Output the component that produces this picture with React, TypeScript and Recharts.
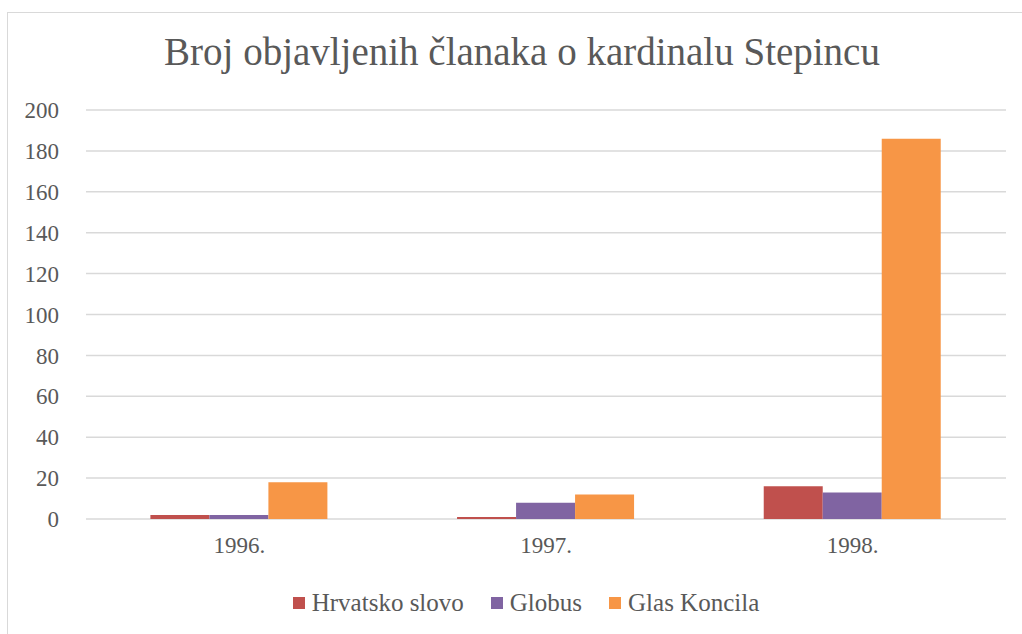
import { BarChart, Bar, XAxis, YAxis, CartesianGrid, Legend } from 'recharts';

const years = ['1996.', '1997.', '1998.'];
const hrvatskoSlovo = [2, 1, 16];
const globus = [2, 8, 13];
const glasKoncila = [18, 12, 186];
const yTicks = [0, 20, 40, 60, 80, 100, 120, 140, 160, 180, 200];

const series = [
  { key: 'hrvatsko', name: 'Hrvatsko slovo', color: '#C0504D', values: hrvatskoSlovo },
  { key: 'globus', name: 'Globus', color: '#8064A2', values: globus },
  { key: 'glas', name: 'Glas Koncila', color: '#F79646', values: glasKoncila },
];

const data = years.map((year, i) => {
  const row: Record<string, string | number> = { year };
  series.forEach((s) => (row[s.key] = s.values[i]));
  return row;
});

const FONT = '"Liberation Serif", serif';
const TEXT = '#595959';

// legend kept in series order, Excel-like spacing
const renderLegend = () => (
  <div style={{ display: 'flex', justifyContent: 'center', alignItems: 'center', gap: 27, fontFamily: FONT, fontSize: 25, color: TEXT }}>
    {series.map((s) => (
      <div key={s.key} style={{ display: 'flex', alignItems: 'center', gap: 7 }}>
        <span style={{ display: 'inline-block', width: 12, height: 12, background: s.color }} />
        <span>{s.name}</span>
      </div>
    ))}
  </div>
);

export default function App() {
  return (
    <div style={{ position: 'absolute', left: 0, top: 0, width: 1022, height: 634, background: '#fff', overflow: 'hidden' }}>
      <div
        style={{
          position: 'absolute',
          left: 7,
          top: 12,
          width: 1015,
          height: 622,
          borderTop: '1.5px solid #d9d9d9',
          borderLeft: '1.5px solid #d9d9d9',
          boxSizing: 'border-box',
        }}
      />
      <div
        style={{
          position: 'absolute',
          left: 0,
          width: 1044,
          top: 29,
          textAlign: 'center',
          fontFamily: FONT,
          fontSize: 39,
          color: TEXT,
          whiteSpace: 'nowrap',
        }}
      >
        Broj objavljenih članaka o kardinalu Stepincu
      </div>
      <div style={{ position: 'absolute', left: 0, top: 0 }}>
        <BarChart
          width={1022}
          height={634}
          data={data}
          margin={{ top: 110, right: 16, left: 0, bottom: 57 }}
          barCategoryGap="21%"
          barGap={0}
        >
          <CartesianGrid vertical={false} stroke="#d9d9d9" strokeWidth={1.5} />
          <XAxis
            dataKey="year"
            axisLine={false}
            tickLine={false}
            height={30}
            tick={{ fill: TEXT, fontSize: 23, fontFamily: FONT }}
            tickMargin={12}
          />
          <YAxis
            domain={[0, 200]}
            ticks={yTicks}
            axisLine={false}
            tickLine={false}
            width={86}
            tick={{ fill: TEXT, fontSize: 23, fontFamily: FONT }}
            tickMargin={21}
          />
          <Legend height={28} content={renderLegend} wrapperStyle={{ bottom: 17, left: 0, width: 1052 }} />
          {series.map((s) => (
            <Bar key={s.key} dataKey={s.key} name={s.name} fill={s.color} isAnimationActive={false} />
          ))}
        </BarChart>
      </div>
    </div>
  );
}
